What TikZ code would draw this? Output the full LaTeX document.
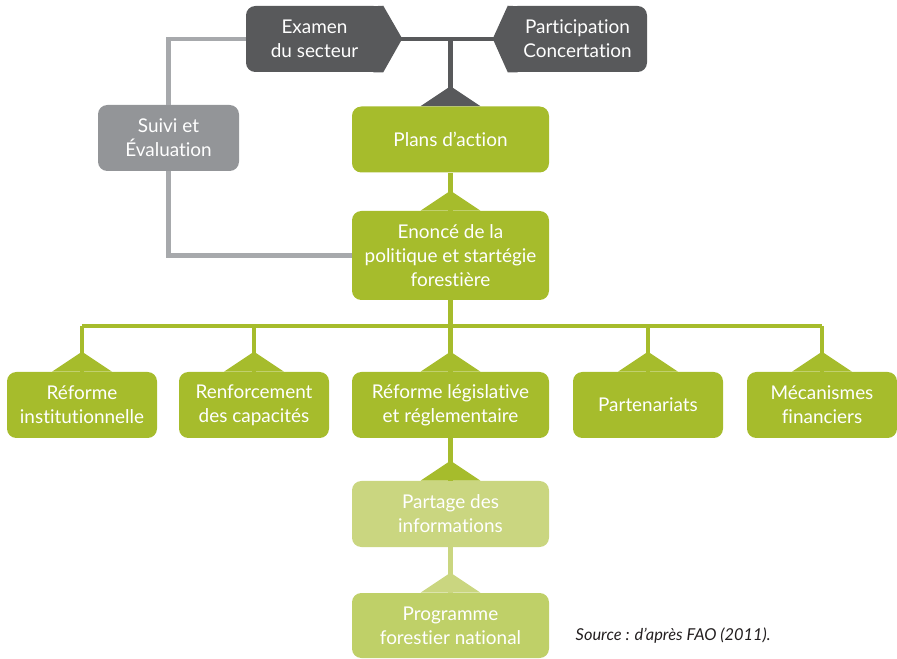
\documentclass[tikz,border=0pt]{standalone}
\usepackage{fontspec}
\setmainfont{Lato}[Ligatures={NoCommon}]
\usetikzlibrary{positioning}
\definecolor{dgray}{HTML}{58595B}
\definecolor{boxgray}{HTML}{939598}
\definecolor{linegray}{HTML}{A7A9AC}
\definecolor{leaf}{HTML}{A6BC2C}
\definecolor{pale}{HTML}{CAD680}
\definecolor{midleaf}{HTML}{BFD068}
\definecolor{ink}{HTML}{231F20}
\begin{document}
\begin{tikzpicture}[x=0.75pt,y=-0.75pt]
      %boxes and connectors
      \tikzset{
      box/.style={rounded corners=7pt, text=white, align=center, inner sep=0pt,
        font=\fontsize{14.2}{18}\selectfont, minimum height=49.5pt},
      wide/.style={box, minimum width=147.75pt},
      narrow/.style={box, minimum width=112.5pt},
      dline/.style={dgray, line width=3.4pt},
      gline/.style={linegray, line width=3.6pt},
      gn/.style={leaf, line width=3.6pt},
      hat/.pic={\fill (-30,0) -- (0,-20) -- (30,0) -- cycle;},
      }
      \useasboundingbox (0,0) rectangle (897,659);

      %Top - review and participation
      \node[box, fill=dgray, minimum width=102.75pt] (exam) at (314.5,39) {Examen\\du secteur};
      \node[box, fill=dgray, minimum width=104.25pt] (part) at (577.5,39) {Participation\\Concertation};
      \node[box, fill=boxgray, minimum width=105.75pt] (suivi) at (168.5,138) {Suivi et\\Évaluation};

      %Middle column
      \node[wide, fill=leaf] (plans) at (450.5,139.5) {Plans d’action};
      \node[wide, fill=leaf, minimum height=66.75pt] (enonce) at (450.5,255.5) {Enoncé de la\\politique et startégie\\forestière};

      %Row of reforms
      \node[narrow, fill=leaf] (inst) at (82,405) {Réforme\\institutionnelle};
      \node[narrow, fill=leaf] (renf) at (254,405) {Renforcement\\des capacités};
      \node[wide, fill=leaf] (legis) at (450.5,405) {Réforme législative\\et réglementaire};
      \node[narrow, fill=leaf] (parten) at (648,405) {Partenariats};
      \node[narrow, fill=leaf] (meca) at (822,405) {Mécanismes\\financiers};

      %Bottom
      \node[wide, fill=pale] (partage) at (450.5,514) {Partage des\\informations};
      \node[wide, fill=midleaf, minimum height=48.75pt] (prog) at (450.5,625.5) {Programme\\forestier national};
      \node[anchor=west, text=ink, font=\fontsize{12.3}{14}\selectfont\itshape] (src) at (571,636) {Source : d’après FAO (2011).};

      %dark links
      \coordinate (hub) at (plans.north |- exam.east);
      \draw[dline] (exam.east) -- (part.west);
      \draw[dline] (hub) -- (plans.north);
      \fill[dgray] (exam.north east) -- ++(19,33) -- (exam.south east) -- ++(-10,0) -- ++(0,-66) -- cycle;
      \fill[dgray] (part.north west) -- ++(-15,33) -- (part.south west) -- ++(10,0) -- ++(0,-66) -- cycle;
      \pic[dgray] at (plans.north) {hat};

      %follow-up loop
      \draw[gline] (exam.west) -| (suivi.north);
      \draw[gline] (suivi.south) |- (enonce.west);

      %green links
      \coordinate (busy) at (0,326);
      \draw[gn] (plans.south) -- (enonce.north);
      \pic[leaf] at (enonce.north) {hat};
      \draw[gn] (enonce.south) -- (legis.north);
      \draw[gn] (inst.north |- busy) -- (meca.north |- busy);
      \foreach \n in {inst,renf,parten,meca}
        \draw[gn] (\n.north |- busy) -- (\n.north);
      \foreach \n in {inst,renf,legis,parten,meca}
        \pic[leaf] at (\n.north) {hat};
      \draw[gn] (legis.south) -- (partage.north);
      \pic[leaf] at (partage.north) {hat};
      \draw[gn, pale] (partage.south) -- (prog.north);
      \pic[pale] at (prog.north) {hat};
\end{tikzpicture}
\end{document}
